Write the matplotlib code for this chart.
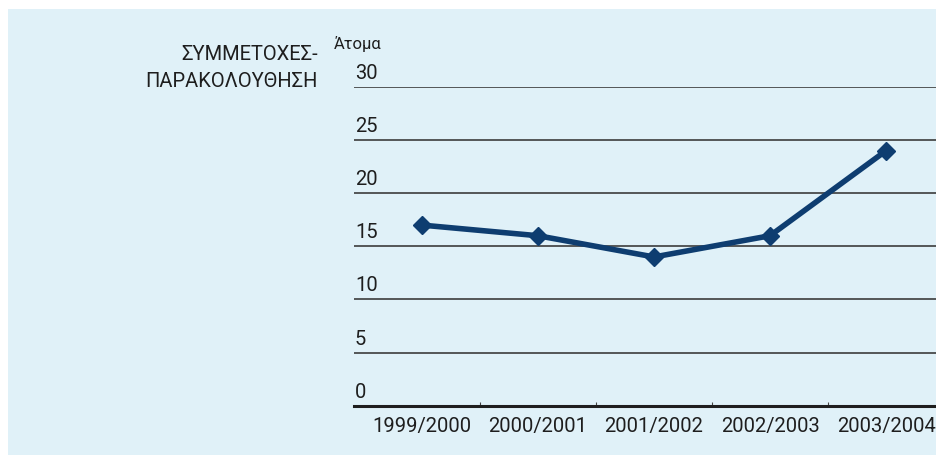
import matplotlib.pyplot as plt
from matplotlib.patches import Rectangle

# data
seasons = ["1999/2000", "2000/2001", "2001/2002", "2002/2003", "2003/2004"]
people = [17, 16, 14, 16, 24]
y_ticks = [0, 5, 10, 15, 20, 25, 30]

BG = "#e0f1f8"
LINE_COLOR = "#0e3d70"
TEXT_COLOR = "#1e1e1e"
FONT = "Roboto"

W, H = 936, 456
fig = plt.figure(figsize=(W / 100, H / 100), dpi=100)
fig.patch.set_facecolor("white")
fig.patches.append(Rectangle((8 / W, 0), 1, 1 - 10 / H, transform=fig.transFigure,
                             facecolor=BG, edgecolor="none", zorder=-5))

# axes box in pixels: left 354, bottom at y=406.7, top (30) at y=88
ax_left, ax_bottom, ax_top = 354, 406.7, 88
ax = fig.add_axes([ax_left / W, 1 - ax_bottom / H, (W - ax_left) / W,
                   (ax_bottom - ax_top) / H])
ax.patch.set_alpha(0)

x = list(range(len(seasons)))
# category centres at 422 + 116*i px, left edge of axes at 354
px_per_cat = 116
x_lo = (ax_left - 422) / px_per_cat
x_hi = x_lo + (W - ax_left) / px_per_cat
ax.set_xlim(x_lo, x_hi)
ax.set_ylim(0, 30)

for yv in y_ticks[1:]:
    ax.axhline(yv, color="#3c3c3c", lw=1.2, zorder=1)
for yv in y_ticks:
    ax.annotate(str(yv), xy=(0, yv), xycoords=("axes fraction", "data"),
                xytext=(1, 5), textcoords="offset pixels", ha="left", va="bottom",
                fontsize=14.5, color=TEXT_COLOR, family=FONT)

ax.plot(x, people, color=LINE_COLOR, lw=4, marker="D", markersize=9,
        zorder=3, clip_on=False)

for s in ["top", "right", "left"]:
    ax.spines[s].set_visible(False)
ax.spines["bottom"].set_linewidth(2.2)
ax.spines["bottom"].set_color("#1e1e1e")

ax.set_yticks([])
ax.set_xticks([i + 0.5 for i in range(len(seasons) - 1)])
ax.set_xticklabels([])
ax.tick_params(axis="x", direction="in", length=3, width=0.8, color="#444444")
for i, s in enumerate(seasons):
    ax.annotate(s, xy=(i, 0), xycoords="data", xytext=(0, -10),
                textcoords="offset pixels", ha="center", va="top",
                fontsize=14.5, color=TEXT_COLOR, family=FONT, annotation_clip=False)

fig.text(318 / W, 1 - 60 / H, "ΣΥΜΜΕΤΟΧΕΣ-", ha="right", va="baseline",
         fontsize=14.5, color=TEXT_COLOR, family=FONT)
fig.text(318 / W, 1 - 87 / H, "ΠΑΡΑΚΟΛΟΥΘΗΣΗ", ha="right", va="baseline",
         fontsize=14.5, color=TEXT_COLOR, family=FONT)
fig.text(334 / W, 1 - 49 / H, "Άτομα", ha="left", va="baseline",
         fontsize=12, color=TEXT_COLOR, family=FONT)

fig.savefig("out.png", dpi=100)
